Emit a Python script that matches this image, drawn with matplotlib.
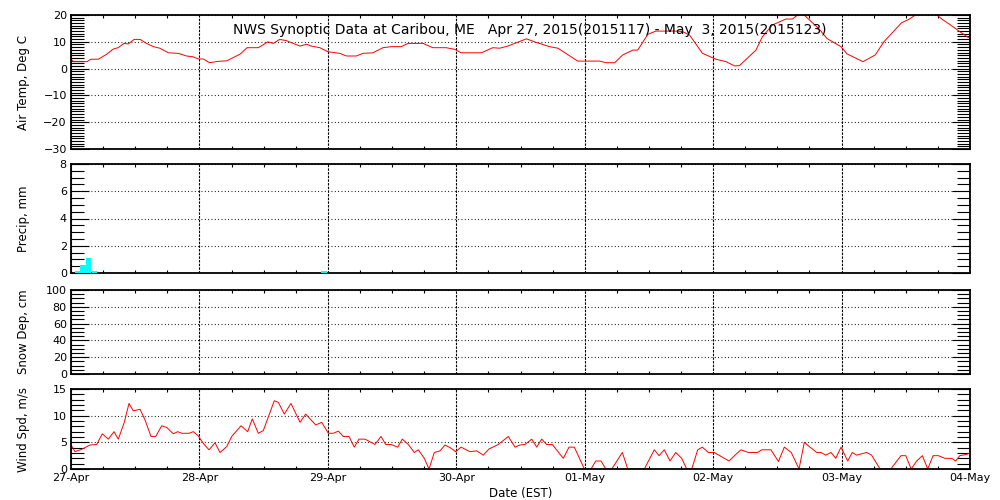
import numpy as np
import matplotlib
matplotlib.use('Agg')
from matplotlib import pyplot as plt
from matplotlib.ticker import MultipleLocator

plt.rcParams.update({'font.family': 'DejaVu Sans', 'font.size': 8})

# hours since 27-Apr-2015 00:00 EST
day_labels = ['27-Apr', '28-Apr', '29-Apr', '30-Apr', '01-May', '02-May', '03-May', '04-May']

temp_hours = [0, 0.4, 3.0, 3.7, 5.1, 6.7, 7.9, 8.8, 9.9, 10.7, 11.8, 12.9, 14.1, 15.4, 16.6, 18.2,
              20.0, 21.6, 22.8, 23.8, 24.7, 25.9, 27.5, 29.1, 30.6, 31.6, 32.9, 35.0, 36.8, 37.8,
              39.0, 40.3, 41.5, 42.8, 44.0, 44.9, 46.5, 48.0, 50.2, 51.5, 53.3, 54.6, 56.4, 58.3,
              59.9, 61.7, 63.0, 65.8, 67.6, 70.1, 71.7, 72.9, 76.7, 78.8, 80.1, 81.6, 85.1, 86.6,
              89.4, 91.0, 94.7, 98.8, 100.0, 101.6, 103.1, 105.0, 105.9, 107.8, 109.3, 113.1,
              114.3, 115.6, 118.0, 120.5, 122.4, 124.0, 124.9, 128.0, 129.2, 131.1, 133.6, 134.8,
              135.8, 136.4, 137.0, 139.7, 141.3, 143.9, 145.0, 148.0, 150.3, 151.9, 153.4, 155.2,
              156.6, 157.8, 159.8, 161.8, 162.8, 164.2, 165.8, 167.6, 168.0]
temp_c = [3.5, 2.6, 2.6, 3.5, 3.5, 5.4, 7.3, 7.8, 9.4, 9.2, 10.9, 10.9, 9.4, 8.2, 7.6, 5.9,
          5.7, 4.7, 4.4, 3.6, 3.6, 2.2, 2.7, 2.9, 4.4, 5.4, 7.8, 7.8, 10.0, 9.4,
          10.9, 10.4, 9.4, 8.4, 9.1, 8.4, 7.8, 6.3, 5.7, 4.7, 4.7, 5.7, 5.9, 7.8,
          8.2, 8.2, 9.4, 9.4, 7.8, 7.8, 7.2, 5.9, 5.9, 7.8, 7.6, 8.4, 11.1, 10.0,
          8.2, 7.6, 2.8, 2.8, 2.2, 2.2, 5.1, 6.9, 6.9, 12.8, 14.0, 14.0,
          13.8, 12.5, 5.7, 3.5, 2.6, 1.0, 1.1, 6.9, 11.9, 16.3, 18.5, 18.5,
          20.0, 21.0, 20.0, 15.0, 11.2, 8.2, 5.5, 2.6, 5.1, 10.0, 13.2, 17.1,
          18.4, 20.0, 21.2, 20.0, 18.4, 16.5, 14.2, 11.7, 11.5]

precip_hours = [1.3, 2.3, 3.3, 4.4, 47.3]
precip_mm = [0.15, 0.6, 1.08, 0.12, 0.12]

snow_hours = []
snow_cm = []

wind_hours = [0, 0.75, 2.0, 3.55, 4.8, 5.85, 6.97, 8.04, 8.84, 9.96, 10.84, 11.64, 12.9, 13.83,
              14.95, 15.83, 16.95, 17.88, 19.12, 19.94, 20.69, 22.05, 22.86, 23.79, 24.72, 25.79,
              26.91, 27.85, 29.1, 30.03, 31.77, 33.02, 33.88, 35.0, 35.94, 37.99, 38.74, 39.86,
              41.11, 42.8, 43.86, 45.73, 46.85, 48.09, 49.02, 49.95, 50.89, 51.95, 52.94, 53.82,
              54.94, 56.81, 57.93, 58.81, 59.8, 61.05, 61.91, 63.03, 64.16, 64.9, 66.03, 66.9,
              67.9, 68.96, 69.89, 71.01, 71.89, 72.88, 74.57, 75.82, 77.05, 78.11, 79.85, 81.72,
              82.97, 83.91, 84.84, 86.1, 87.03, 87.96, 88.9, 89.94, 92.0, 93.07, 94.06, 95.93,
              97.18, 98.06, 99.05, 99.93, 101.05, 103.03, 104.04, 107.14, 109.0, 109.89, 110.87,
              111.94, 113.0, 114.13, 115.06, 116.0, 117.12, 117.97, 119.1, 120.2, 122.97, 124.09,
              125.2, 126.6, 128.3, 129.1, 130.8, 132.2, 133.3, 134.6, 136.05, 137.04, 138.1,
              139.36, 140.16, 141.04, 142.03, 142.91, 143.9, 145.15, 146.0, 146.8, 148.7, 149.6,
              151.2, 153.2, 155.1, 156.0, 157.0, 158.04, 159.1, 160.1, 161.1, 162.1, 163.3,
              164.6, 165.3, 166.1, 167.4, 167.7]
wind_ms = [4.5, 3.25, 3.7, 4.5, 4.6, 6.6, 5.6, 7.0, 5.6, 8.75, 12.3, 10.9, 11.2, 9.2,
           6.1, 6.1, 8.1, 7.8, 6.6, 7.0, 6.7, 6.7, 7.0, 6.2, 4.8, 3.6,
           4.9, 3.1, 4.2, 6.1, 8.1, 7.0, 9.4, 6.7, 7.2, 12.8, 12.5, 10.3,
           12.3, 8.75, 10.3, 8.25, 8.75, 6.7, 6.7, 7.1, 6.1, 6.1, 4.1, 5.6,
           5.6, 4.6, 6.1, 4.6, 4.6, 4.1, 5.6, 4.6, 3.1, 3.6, 2.0, 0.0,
           3.1, 3.4, 4.5, 3.9, 3.25, 4.1, 3.25, 3.4, 2.6, 3.75, 4.6, 6.1,
           4.1, 4.5, 4.6, 5.6, 4.1, 5.6, 4.6, 4.6, 2.0, 4.1, 4.1, 0.0,
           0.0, 1.5, 1.5, 0.0, 0.0, 3.1, 0.0, 0.0, 3.6, 2.5, 3.6,
           1.5, 3.1, 2.0, 0.0, 0.0, 3.6, 4.1, 3.1, 3.1, 1.5, 2.6,
           3.6, 3.1, 3.1, 3.6, 3.6, 1.4, 4.1, 3.1, 0.0, 5.0, 4.1,
           3.1, 3.1, 2.6, 3.1, 2.0, 4.1, 1.5, 3.1, 2.6, 3.1, 2.6,
           0.0, 0.0, 2.5, 2.5, 0.0, 1.5, 2.5, 0.0, 2.5, 2.5, 2.0,
           2.0, 1.5, 2.5, 2.75, 2.9]

title = 'NWS Synoptic Data at Caribou, ME   Apr 27, 2015(2015117) - May  3, 2015(2015123)'

# panel boxes in figure fraction [left, bottom, width, height]
boxes = [[0.071, 0.702, 0.899, 0.268],
         [0.071, 0.454, 0.899, 0.218],
         [0.071, 0.252, 0.899, 0.168],
         [0.071, 0.062, 0.899, 0.160]]
ylims = [(-30, 20), (0, 8), (0, 100), (0, 15)]
ymajor = [10, 2, 20, 5]
yminor = [1, 0.5, 5, 1]
ylabels = ['Air Temp, Deg C', 'Precip, mm', 'Snow Dep, cm', 'Wind Spd, m/s']

fig = plt.figure(figsize=(10, 5), dpi=100)
axes = []
for i, b in enumerate(boxes):
    ax = fig.add_axes(b)
    ax.set_xlim(0, 168)
    ax.set_ylim(*ylims[i])
    ax.xaxis.set_major_locator(MultipleLocator(24))
    ax.xaxis.set_minor_locator(MultipleLocator(6))
    ax.yaxis.set_major_locator(MultipleLocator(ymajor[i]))
    ax.yaxis.set_minor_locator(MultipleLocator(yminor[i]))
    ax.tick_params(axis='y', which='major', direction='in', length=13, width=0.8, left=True, right=True,
                   labelsize=8, pad=3)
    ax.tick_params(axis='y', which='minor', direction='in', length=9.5, width=0.8, left=True, right=True)
    ax.tick_params(axis='x', which='major', length=0, top=True, bottom=True, pad=3, labelsize=8)
    ax.tick_params(axis='x', which='minor', direction='in', length=2.5, width=0.8, top=True, bottom=True)
    for s in ax.spines.values():
        s.set_linewidth(1.3)
        s.set_zorder(5)
    ax.grid(True, axis='x', which='major', color='k', linestyle=(0, (2.2, 1.1)), linewidth=0.8)
    ax.grid(True, axis='y', which='major', color='k', linestyle=(0, (0.8, 2.2)), linewidth=0.8)
    ax.set_ylabel(ylabels[i], fontsize=8.5)
    ax.yaxis.set_label_coords(-0.046, 0.5)
    if i < 3:
        ax.set_xticklabels([])
    else:
        ax.set_xticks(np.arange(0, 169, 24))
        ax.set_xticklabels(day_labels)
        ax.set_xlabel('Date (EST)', fontsize=8.5, labelpad=3)
    axes.append(ax)

axes[0].plot(temp_hours, temp_c, color='red', linewidth=0.7)
# bars sit on top of the frame so the tiny amounts still show
axes[1].bar(precip_hours, precip_mm, width=1.05, color='cyan', linewidth=0, zorder=6)
axes[2].plot(snow_hours, snow_cm, color='red', linewidth=0.7)
axes[3].plot(wind_hours, wind_ms, color='red', linewidth=0.7)

fig.text(0.53, 1 - 30 / 500, title, ha='center', va='center', fontsize=10)

plt.savefig('out.png', dpi=100)
plt.close()
